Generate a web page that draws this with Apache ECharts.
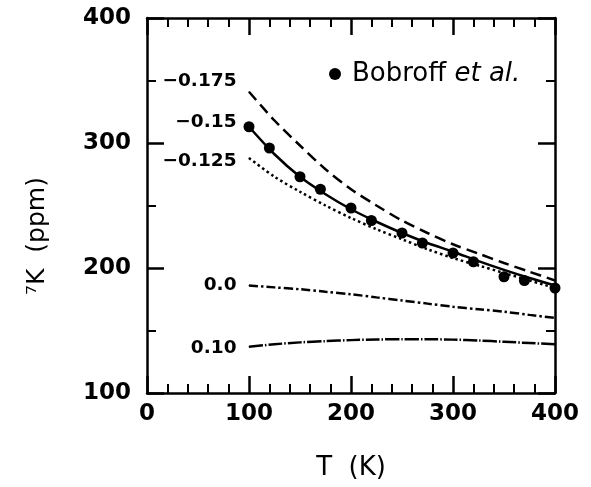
<!DOCTYPE html>
<html>
<head>
<meta charset="utf-8">
<script src="https://cdn.jsdelivr.net/npm/echarts@6/dist/echarts.min.js"></script>
<style>
  html, body { margin: 0; padding: 0; background: #fff; }
  #chart { width: 591px; height: 487px; }
</style>
</head>
<body>
<div id="chart"></div>
<script>
// ---- data ----
const temps = [100, 125, 150, 175, 200, 225, 250, 275, 300, 325, 350, 375, 400];
const curveM0175 = [341, 318, 298, 279, 263, 250, 238, 228, 219, 211.5, 204, 197, 190];
const curveM015  = [313, 291, 273, 259, 247, 237, 228, 220, 213, 205.5, 198.5, 192, 186];
const curveM0125 = [288, 273, 261, 250, 240, 231, 223, 215, 208, 202, 196, 190, 184];
const curve00    = [186, 184.5, 183, 181, 179, 176.5, 174, 171.5, 169, 167, 165, 162.5, 160];
const curve010   = [137, 139, 140.5, 141.5, 142.3, 142.8, 143, 143, 142.7, 142, 141, 140, 139];
const curveNames = ['\u22120.175', '\u22120.15', '\u22120.125', '0.0', '0.10'];

const bobroffT = [100, 120, 150, 170, 200, 220, 250, 270, 300, 320, 350, 370, 400];
const bobroffK = [313, 296, 273, 263, 248, 238, 228, 220, 212, 205, 193, 190, 184];

const xTicks = [0, 100, 200, 300, 400];
const yTicks = [100, 200, 300, 400];

// ---- chart ----
const chart = echarts.init(document.getElementById('chart'), null, { renderer: 'canvas' });
const FONT = 'DejaVu Sans';

function zip(xs, ys) { return xs.map((x, i) => [x, ys[i]]); }

function curveSeries(name, ys, dash, labelOffset) {
  const pts = zip(temps, ys).map((p, i) => i === 0 ? {
    value: p,
    symbol: 'circle', symbolSize: 1,
    itemStyle: { color: '#000', opacity: 1 },
    label: {
      show: true, position: 'left', distance: 12, offset: labelOffset, opacity: 1,
      formatter: name, color: '#000', fontFamily: FONT, fontWeight: 'bold', fontSize: 18.5
    }
  } : p);
  return {
    type: 'line', name: name, data: pts, smooth: 0.3,
    symbol: 'none', showSymbol: true, showAllSymbol: true,
    itemStyle: { color: '#000' },
    lineStyle: { color: '#000', width: 2.5, type: dash, cap: 'butt' },
    z: 2, silent: true
  };
}

const axisCommon = {
  type: 'value',
  axisLine: { show: true, onZero: false, lineStyle: { color: '#000', width: 2.5 } },
  axisTick: { show: true, inside: true, length: 17, lineStyle: { color: '#000', width: 2.5 } },
  minorTick: { show: true, length: 9, lineStyle: { color: '#000', width: 2 } },
  splitLine: { show: false }
};

const option = {
  backgroundColor: '#fff',
  animation: false,
  grid: { left: 147, top: 18, right: 36, bottom: 94, containLabel: false },
  xAxis: [
    Object.assign({}, axisCommon, {
      min: xTicks[0], max: xTicks[xTicks.length - 1], interval: 100,
      position: 'bottom',
      minorTick: Object.assign({}, axisCommon.minorTick, { splitNumber: 5 }),
      axisLabel: { show: true, margin: 10, color: '#000', fontFamily: FONT, fontWeight: 'bold', fontSize: 23 },
      name: 'T  (K)', nameLocation: 'middle', nameGap: 62,
      nameTextStyle: { color: '#000', fontFamily: FONT, fontSize: 26 }
    }),
    Object.assign({}, axisCommon, {
      min: xTicks[0], max: xTicks[xTicks.length - 1], interval: 100,
      position: 'top',
      minorTick: Object.assign({}, axisCommon.minorTick, { splitNumber: 5 }),
      axisLabel: { show: false }
    })
  ],
  yAxis: [
    Object.assign({}, axisCommon, {
      min: yTicks[0], max: yTicks[yTicks.length - 1], interval: 100,
      position: 'left',
      minorTick: Object.assign({}, axisCommon.minorTick, { splitNumber: 2 }),
      axisLabel: { show: true, margin: 16, color: '#000', fontFamily: FONT, fontWeight: 'bold', fontSize: 23 }
    }),
    Object.assign({}, axisCommon, {
      min: yTicks[0], max: yTicks[yTicks.length - 1], interval: 100,
      position: 'right',
      minorTick: Object.assign({}, axisCommon.minorTick, { splitNumber: 2 }),
      axisLabel: { show: false }
    })
  ],
  legend: {
    show: true, left: 329, top: 61, padding: 0,
    data: [{ name: 'Bobroff et al.', icon: 'circle', itemStyle: { color: '#000', opacity: 1 } }],
    itemWidth: 12, itemHeight: 12, itemGap: 0,
    formatter: function () { return '{n|Bobroff} {i|et al.}'; },
    textStyle: {
      color: '#000', fontFamily: FONT, fontSize: 26, padding: [0, 0, 0, 6],
      rich: {
        n: { color: '#000', fontFamily: FONT, fontSize: 26 },
        i: { color: '#000', fontFamily: FONT, fontSize: 26, fontStyle: 'italic' }
      }
    }
  },
  graphic: [{
    type: 'text', rotation: Math.PI / 2,
    style: { text: '\u2077K  (ppm)', fill: '#000', font: '25px "DejaVu Sans"', textAlign: 'center', textVerticalAlign: 'middle' },
    x: 37, y: 236
  }],
  series: [
    curveSeries(curveNames[0], curveM0175, [11, 6], [0, -11]),
    curveSeries(curveNames[1], curveM015, 'solid', [0, -5]),
    curveSeries(curveNames[2], curveM0125, [2.5, 3], [0, 3]),
    curveSeries(curveNames[3], curve00, [9, 3, 2.5, 3], [0, 0]),
    curveSeries(curveNames[4], curve010, [14, 2, 1.5, 2], [0, 1]),
    {
      type: 'scatter', name: 'Bobroff et al.', data: zip(bobroffT, bobroffK),
      symbol: 'circle', symbolSize: 11,
      itemStyle: { color: '#000', opacity: 1 }, z: 3, silent: true
    }
  ]
};
chart.setOption(option);
</script>
</body>
</html>
